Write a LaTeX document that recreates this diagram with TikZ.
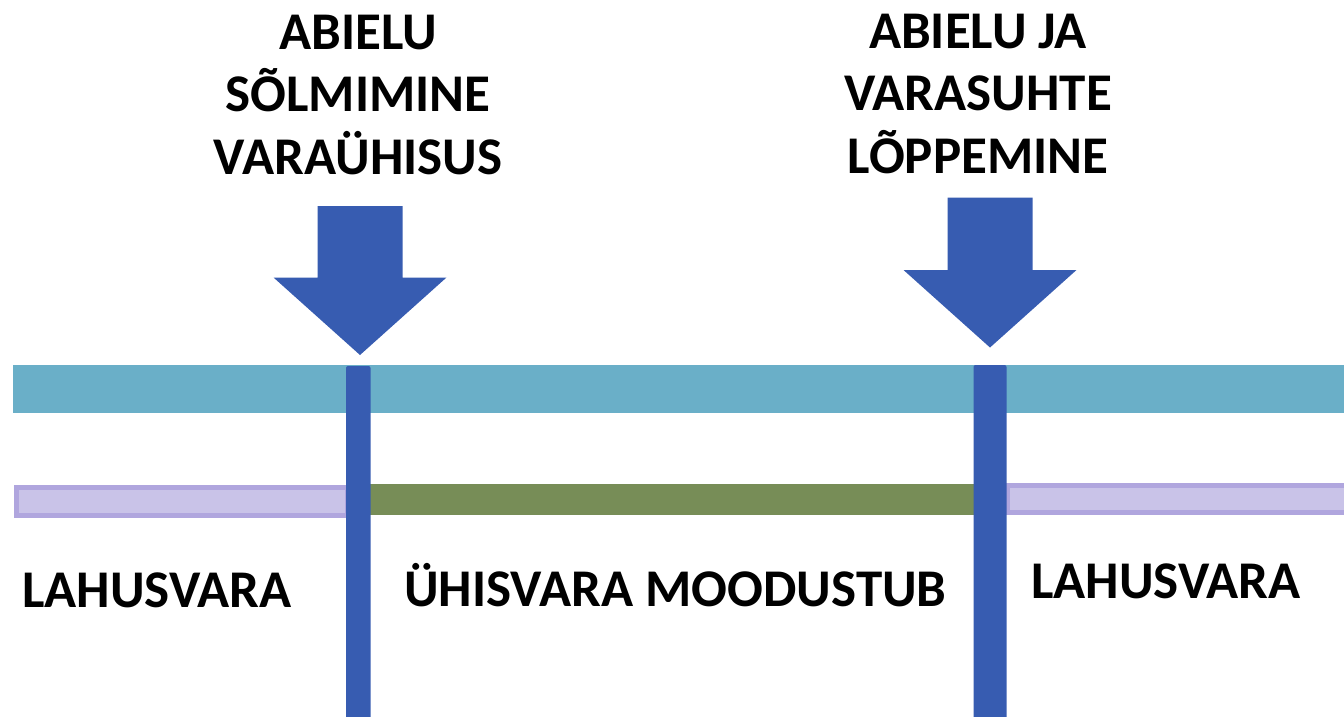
\documentclass[tikz,border=0pt]{standalone}
\usepackage{fontspec}
\setmainfont{Carlito}
\usepackage{tikz}
\definecolor{teal bar}{HTML}{6AAFC8}
\definecolor{mark blue}{HTML}{375CB1}
\definecolor{joint green}{HTML}{778D57}
\definecolor{sep fill}{HTML}{C9C3E8}
\definecolor{sep line}{HTML}{B0A6DE}
\tikzset{
% Styles for the timeline: bars, markers and labels
marker bar/.style={fill=mark blue,rounded corners=2},
block arrow/.style={fill=mark blue},
separate bar/.style={fill=sep fill,draw=sep line,line width=5},
big label/.style={font=\bfseries\fontsize{53}{62.5}\selectfont,inner sep=0,align=center}
}

\begin{document}
\begin{tikzpicture}[x=1pt,y=-1pt]
\useasboundingbox (0,0) rectangle (1344,716);
% The timeline
\fill[teal bar] (13,365) rectangle (1344,413);
\draw[separate bar] (16.5,487.5) rectangle (347,515.5);
\fill[joint green] (370,483.5) rectangle (974,515);
\draw[separate bar] (1007.5,485.5) rectangle (1348,512.5);
% Marriage start and end
\fill[marker bar] (346,366) rectangle (370.5,720);
\fill[marker bar] (973.5,365) rectangle (1006.5,720);
\fill[block arrow] (317.5,206) -- (402.5,206) -- (402.5,277.5) -- (446.5,277.5)
  -- (360,355) -- (273.5,277.5) -- (317.5,277.5) -- cycle;
\fill[block arrow] (947.5,197.5) -- (1032.5,197.5) -- (1032.5,270) -- (1076.5,270)
  -- (990,347.5) -- (903.5,270) -- (947.5,270) -- cycle;
% Labels
\node(start)[big label,anchor=base] at (358,174) {ABIELU\\SÕLMIMINE\\VARAÜHISUS};
\node(end)[big label,anchor=base] at (978,173) {ABIELU JA\\VARASUHTE\\LÕPPEMINE};
\node(sepleft)[big label,anchor=base west] at (22,607) {LAHUSVARA};
\node(joint)[big label,anchor=base west] at (404,606) {ÜHISVARA MOODUSTUB};
\node(sepright)[big label,anchor=base west] at (1031,598) {LAHUSVARA};
\end{tikzpicture}
\end{document}
